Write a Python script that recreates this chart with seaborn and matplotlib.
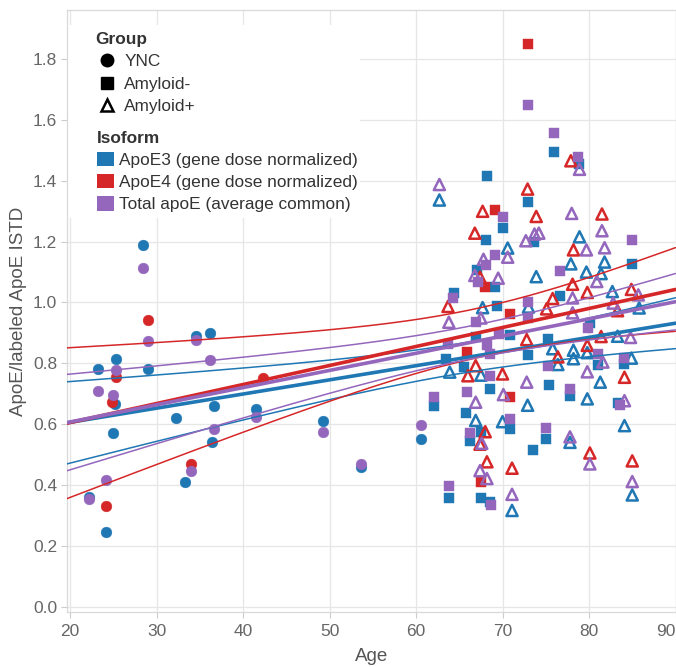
import numpy as np
import pandas as pd
import matplotlib
matplotlib.use("Agg")
import matplotlib.pyplot as plt
import seaborn as sns
from matplotlib.lines import Line2D
from matplotlib.patches import Patch, Rectangle

# -----------------------------
# Data
# -----------------------------
groups = ["YNC", "Amyloid-", "Amyloid+"]
isoforms = ["ApoE3 (gene dose normalized)", "ApoE4 (gene dose normalized)",
            "Total apoE (average common)"]

# ApoE3
e3_ync_age = [28.4, 29.0, 23.2, 25.3, 25.2, 25.0, 22.2, 24.2, 32.3, 34.6, 36.2, 36.6,
              36.4, 33.3, 41.5, 49.2, 53.6, 60.6]
e3_ync_val = [1.19, 0.78, 0.78, 0.815, 0.665, 0.57, 0.36, 0.245, 0.62, 0.89, 0.90, 0.66,
              0.54, 0.41, 0.65, 0.61, 0.46, 0.55]
e3_neg_age = [68.2, 76.0, 78.8, 73.0, 70.1, 68.1, 85.0, 73.6, 67.0, 69.1, 64.4, 76.6,
              69.4, 70.9, 66.9, 73.0, 63.5, 65.6, 80.1, 75.3, 84.0, 81.0, 75.4, 77.8,
              68.5, 83.4, 62.1, 65.8, 70.9, 66.2, 67.5, 75.0, 73.5, 63.8, 67.5, 68.6]
e3_neg_val = [1.416, 1.494, 1.455, 1.332, 1.244, 1.206, 1.127, 1.198, 1.107, 1.050, 1.032, 1.021,
              0.988, 0.892, 0.886, 0.826, 0.813, 0.788, 0.933, 0.881, 0.798, 0.793, 0.730, 0.692,
              0.717, 0.670, 0.660, 0.637, 0.583, 0.545, 0.573, 0.550, 0.515, 0.356, 0.356, 0.345]
e3_pos_age = [62.7, 78.9, 70.6, 77.9, 81.8, 79.7, 81.4, 73.9, 82.7, 67.7, 73.0, 85.8,
              83.3, 75.8, 78.2, 79.8, 76.4, 78.2, 84.9, 63.9, 67.5, 81.3, 79.8, 72.9,
              84.1, 66.9, 70.0, 77.8, 85.0, 71.1]
e3_pos_val = [1.337, 1.216, 1.179, 1.127, 1.133, 1.100, 1.095, 1.085, 1.036, 0.983, 0.985, 0.982,
              0.889, 0.848, 0.843, 0.835, 0.796, 0.815, 0.817, 0.771, 0.761, 0.738, 0.683, 0.662,
              0.595, 0.612, 0.608, 0.540, 0.367, 0.316]

# ApoE4
e4_ync_age = [29.0, 25.3, 24.8, 24.2, 34.0, 42.3]
e4_ync_val = [0.944, 0.755, 0.673, 0.33, 0.469, 0.75]
e4_neg_age = [73.0, 69.1, 68.0, 70.9, 65.9, 70.9, 67.5]
e4_neg_val = [1.85, 1.304, 1.052, 0.963, 0.837, 0.690, 0.411]
e4_pos_age = [77.9, 72.9, 67.7, 73.9, 81.5, 66.8, 78.2, 67.4, 78.1, 79.8, 84.9, 75.8,
              63.7, 75.1, 83.3, 72.8, 81.4, 79.8, 76.4, 66.9, 66.0, 70.0, 84.1, 68.0,
              67.4, 80.1, 85.0, 68.2, 71.1]
e4_pos_val = [1.466, 1.373, 1.300, 1.283, 1.291, 1.228, 1.173, 1.083, 1.060, 1.033, 1.043, 1.013,
              0.987, 0.979, 0.973, 0.878, 0.888, 0.859, 0.821, 0.792, 0.759, 0.765, 0.754, 0.575,
              0.534, 0.505, 0.479, 0.476, 0.455]

# Total apoE
tot_ync_age = [28.4, 29.0, 23.2, 25.3, 25.0, 24.2, 22.2, 34.6, 36.2, 36.6, 34.0, 41.5,
               49.2, 53.6, 60.6]
tot_ync_val = [1.114, 0.872, 0.708, 0.779, 0.697, 0.416, 0.353, 0.875, 0.81, 0.585, 0.447, 0.624,
               0.574, 0.47, 0.597]
tot_neg_age = [73.0, 76.0, 78.7, 70.1, 85.0, 69.1, 68.1, 76.7, 67.2, 64.3, 73.0, 73.0,
               66.9, 69.6, 63.7, 68.2, 79.9, 68.5, 81.0, 84.1, 75.3, 68.6, 77.8, 62.1,
               65.9, 83.6, 70.9, 75.0, 66.2, 63.8, 68.7]
tot_neg_val = [1.650, 1.558, 1.479, 1.282, 1.206, 1.156, 1.124, 1.103, 1.069, 1.014, 1.001, 0.949,
               0.935, 0.897, 0.865, 0.861, 0.915, 0.832, 0.829, 0.817, 0.790, 0.757, 0.714, 0.689,
               0.707, 0.662, 0.617, 0.586, 0.571, 0.395, 0.334]
tot_pos_age = [62.7, 78.9, 78.0, 81.5, 74.2, 73.7, 72.7, 81.8, 79.7, 70.6, 67.8, 66.8,
               69.5, 80.9, 85.7, 78.1, 82.8, 63.8, 67.5, 78.1, 84.8, 81.6, 72.8, 79.8,
               70.1, 84.1, 66.9, 77.8, 67.6, 80.1, 67.4, 68.2, 85.0, 71.1]
tot_pos_val = [1.388, 1.438, 1.293, 1.236, 1.228, 1.225, 1.203, 1.180, 1.173, 1.149, 1.142, 1.089,
               1.080, 1.069, 1.025, 1.015, 0.998, 0.935, 0.949, 0.966, 0.885, 0.804, 0.738, 0.772,
               0.697, 0.677, 0.672, 0.558, 0.537, 0.469, 0.447, 0.421, 0.411, 0.369]

# -----------------------------
# Tabla larga
# -----------------------------
parts = [
    (isoforms[0], "YNC", e3_ync_age, e3_ync_val),
    (isoforms[0], "Amyloid-", e3_neg_age, e3_neg_val),
    (isoforms[0], "Amyloid+", e3_pos_age, e3_pos_val),
    (isoforms[1], "YNC", e4_ync_age, e4_ync_val),
    (isoforms[1], "Amyloid-", e4_neg_age, e4_neg_val),
    (isoforms[1], "Amyloid+", e4_pos_age, e4_pos_val),
    (isoforms[2], "YNC", tot_ync_age, tot_ync_val),
    (isoforms[2], "Amyloid-", tot_neg_age, tot_neg_val),
    (isoforms[2], "Amyloid+", tot_pos_age, tot_pos_val),
]
df = pd.concat([pd.DataFrame({"Isoform": iso, "Group": g, "Age": a, "Value": v})
                for iso, g, a, v in parts], ignore_index=True)

# -----------------------------
# Estilo
# -----------------------------
sns.set_theme(style="whitegrid")
plt.rcParams["font.family"] = ["Liberation Sans", "DejaVu Sans"]
colors = dict(zip(isoforms, ["#1f77b4", "#d62728", "#9467bd"]))
markers = {"YNC": "o", "Amyloid-": "s", "Amyloid+": "^"}

fig = plt.figure(figsize=(6.76, 6.67), dpi=100)
ax = fig.add_axes([67 / 676, 1 - 612 / 667, (675.5 - 67) / 676, (612 - 10) / 667])
xlim = (19.65, 90.0)
ax.set_xlim(*xlim)
ax.set_ylim(-0.018, 1.962)

# -----------------------------
# Puntos
# -----------------------------
for iso in isoforms:
    c = colors[iso]
    for g in groups:
        d = df[(df["Isoform"] == iso) & (df["Group"] == g)]
        if g == "Amyloid+":
            sns.scatterplot(data=d, x="Age", y="Value", marker="^", s=64, color=c,
                            facecolor="none", edgecolor=c, linewidth=1.8,
                            ax=ax, zorder=3, legend=False)
        else:
            sns.scatterplot(data=d, x="Age", y="Value", marker=markers[g], s=60, color=c,
                            edgecolor=c, linewidth=0.3, ax=ax, zorder=3, legend=False)

# -----------------------------
# Tendencias + bandas de confianza (90%)
# -----------------------------
xs = np.linspace(xlim[0], xlim[1], 200)
for iso in isoforms:
    c = colors[iso]
    d = df[df["Isoform"] == iso]
    sns.regplot(data=d, x="Age", y="Value", scatter=False, ci=None, truncate=False,
                color=c, line_kws=dict(lw=2.6, zorder=4), ax=ax)
    x = d["Age"].values
    y = d["Value"].values
    n = len(x)
    b1, b0 = np.polyfit(x, y, 1)
    s = np.sqrt(((y - (b0 + b1 * x)) ** 2).sum() / (n - 2))
    t = 1.645 + 1.6 / (n - 2)
    se = s * np.sqrt(1 / n + (xs - x.mean()) ** 2 / ((x - x.mean()) ** 2).sum())
    fit = b0 + b1 * xs
    ax.plot(xs, fit + t * se, color=c, lw=1.1, zorder=4)
    ax.plot(xs, fit - t * se, color=c, lw=1.1, zorder=4)

ax.set_xlim(*xlim)
ax.set_ylim(-0.018, 1.962)

# -----------------------------
# Ejes
# -----------------------------
ax.set_xticks(range(20, 91, 10))
ax.set_yticks(np.arange(0, 1.81, 0.2))
ax.set_yticklabels([f"{v:.1f}" for v in np.arange(0, 1.81, 0.2)])
ax.tick_params(axis="both", labelsize=12.5, labelcolor="#666666", color="#cccccc",
               length=4, width=0.8, pad=3, left=True, bottom=True)
ax.tick_params(axis="x", pad=5)
ax.get_xticklabels()[-1].set_ha("right")
ax.set_xlabel("Age", fontsize=13.5, color="#555555", labelpad=6)
ax.set_ylabel("ApoE/labeled ApoE ISTD", fontsize=13.5, color="#555555", labelpad=4)
ax.grid(True, color="#e6e6e6", lw=0.9)
for sp in ax.spines.values():
    sp.set_color("#d9d9d9")
    sp.set_linewidth(0.9)

# -----------------------------
# Leyenda
# -----------------------------
ax.add_patch(Rectangle((1 / 608.5, (612 - 218) / 602), (360 - 68) / 608.5, (218 - 25) / 602,
                       transform=ax.transAxes, facecolor="white", edgecolor="none", zorder=1))

group_handles = [
    Line2D([], [], ls="", marker="o", color="black", markersize=9),
    Line2D([], [], ls="", marker="s", color="black", markersize=8),
    Line2D([], [], ls="", marker="^", markerfacecolor="none", markeredgecolor="black",
           markeredgewidth=1.8, markersize=9),
]
leg1 = ax.legend(group_handles, groups, title="Group", loc="upper left",
                 bbox_to_anchor=(95 / 676, 1 - 32 / 667), bbox_transform=fig.transFigure,
                 frameon=False, fontsize=12.4, alignment="left", borderpad=0, borderaxespad=0,
                 handlelength=1.4, handletextpad=0.3, labelspacing=0.42,
                 title_fontproperties={"weight": "bold", "size": 12.4})
leg1.get_title().set_color("#333333")
ax.add_artist(leg1)

iso_handles = [Patch(facecolor=colors[i], edgecolor="none") for i in isoforms]
leg2 = ax.legend(iso_handles, isoforms, title="Isoform", loc="upper left",
                 bbox_to_anchor=(97 / 676, 1 - 131 / 667), bbox_transform=fig.transFigure,
                 frameon=False, fontsize=12.4, alignment="left", borderpad=0, borderaxespad=0,
                 handlelength=1.0, handleheight=0.9, handletextpad=0.3, labelspacing=0.35,
                 title_fontproperties={"weight": "bold", "size": 12.4})
leg2.get_title().set_color("#333333")
for txt in leg1.get_texts() + leg2.get_texts():
    txt.set_color("#333333")

fig.savefig("out.png", dpi=100)
